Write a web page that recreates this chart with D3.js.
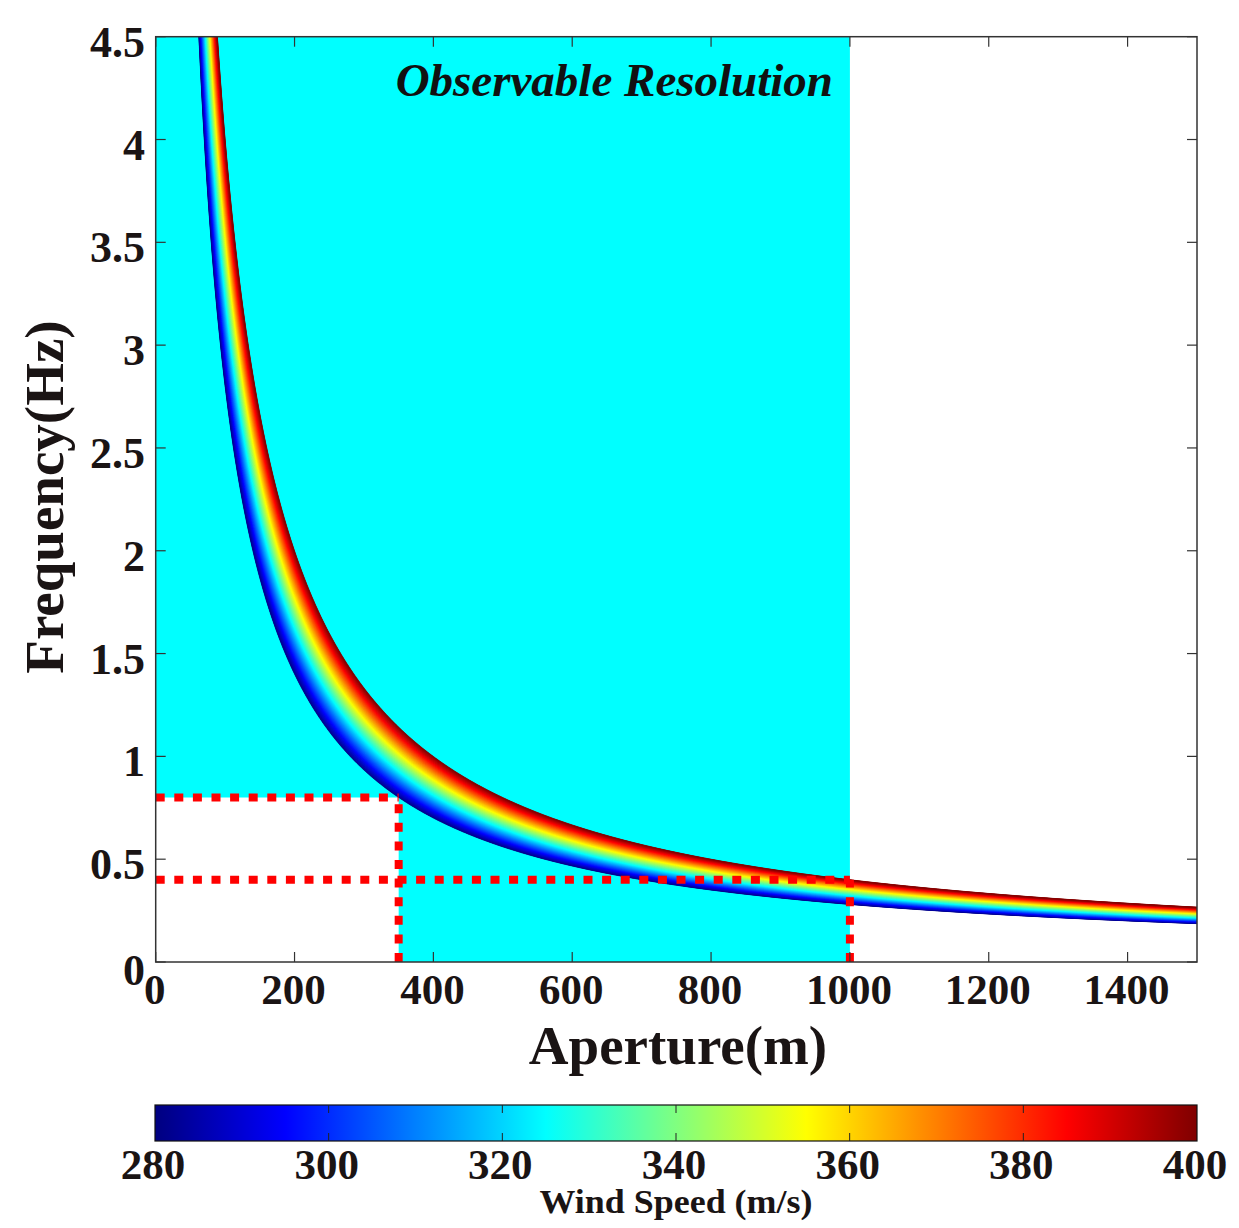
<!DOCTYPE html>
<html>
<head>
<meta charset="utf-8">
<script src="https://cdn.jsdelivr.net/npm/d3@7"></script>
<style>
  html, body { margin: 0; padding: 0; background: #fff; }
  svg { display: block; }
</style>
</head>
<body>
<div id="chart"></div>
<script>
// ---- data ----
const apertureDomain = [0, 1500];          // m
const frequencyDomain = [0, 4.5];          // Hz
const apertureTicks = [0, 200, 400, 600, 800, 1000, 1200, 1400];
const frequencyTicks = [0, 0.5, 1, 1.5, 2, 2.5, 3, 3.5, 4, 4.5];
const windSpeedDomain = [280, 400];        // m/s
const windSpeedTicks = [280, 300, 320, 340, 360, 380, 400];
const windSpeedStep = 1;                   // band resolution (m/s)
const observableAperture = [0, 1000];      // cyan region
const excludedAperture = [0, 350];         // white cut-out
const excludedFrequency = [0, 0.8];
const guideFrequencies = [0.8, 0.4];
const guideApertures = [350, 1000];
// frequency = windSpeed / aperture

// ---- layout ----
const W = 1239, H = 1228;
const m = { left: 155.7, top: 36.7, right: 1197, bottom: 962 };
const font = "'Liberation Serif', 'Times New Roman', serif";

const svg = d3.select("#chart").append("svg").attr("width", W).attr("height", H);

const x = d3.scaleLinear().domain(apertureDomain).range([m.left, m.right]);
const y = d3.scaleLinear().domain(frequencyDomain).range([m.bottom, m.top]);

function jet(t) {
  const c = v => Math.max(0, Math.min(1, v));
  const r = c(1.5 - Math.abs(4 * t - 3));
  const g = c(1.5 - Math.abs(4 * t - 2));
  const b = c(1.5 - Math.abs(4 * t - 1));
  return d3.rgb(r * 255, g * 255, b * 255).toString();
}
const cScale = d3.scaleLinear().domain(windSpeedDomain).range([0, 1]);

const defs = svg.append("defs");
defs.append("clipPath").attr("id", "plotClip")
  .append("rect").attr("x", m.left).attr("y", m.top)
  .attr("width", m.right - m.left).attr("height", m.bottom - m.top);

const plot = svg.append("g").attr("clip-path", "url(#plotClip)");

// cyan observable region
plot.append("rect")
  .attr("x", x(observableAperture[0])).attr("y", y(frequencyDomain[1]))
  .attr("width", x(observableAperture[1]) - x(observableAperture[0]))
  .attr("height", y(frequencyDomain[0]) - y(frequencyDomain[1]))
  .attr("fill", "#00ffff");
// white excluded region
plot.append("rect")
  .attr("x", x(excludedAperture[0])).attr("y", y(excludedFrequency[1]))
  .attr("width", x(excludedAperture[1]) - x(excludedAperture[0]))
  .attr("height", y(excludedFrequency[0]) - y(excludedFrequency[1]))
  .attr("fill", "#ffffff");

// curve band
const Lmin = 50, Lmax = apertureDomain[1];
const Ls = d3.range(0, 500).map(i => Lmin * Math.pow(Lmax / Lmin, i / 499));
const area = d3.area()
  .x(d => x(d.L))
  .y0(d => y(d.f0))
  .y1(d => y(d.f1));
const speeds = d3.range(windSpeedDomain[0], windSpeedDomain[1], windSpeedStep);
speeds.forEach(v => {
  const pts = Ls.map(L => ({ L, f0: v / L, f1: (v + windSpeedStep) / L }));
  const col = jet(cScale(v + windSpeedStep / 2));
  plot.append("path").attr("d", area(pts))
    .attr("fill", col).attr("stroke", col).attr("stroke-width", 0.6);
});

// red dotted guides
const guides = [
  { x1: 0, y1: guideFrequencies[0], x2: guideApertures[0], y2: guideFrequencies[0] },
  { x1: 0, y1: guideFrequencies[1], x2: guideApertures[1], y2: guideFrequencies[1] },
  { x1: guideApertures[0], y1: 0, x2: guideApertures[0], y2: guideFrequencies[0] },
  { x1: guideApertures[1], y1: 0, x2: guideApertures[1], y2: guideFrequencies[1] }
];
svg.append("g").selectAll("line").data(guides).join("line")
  .attr("x1", d => x(d.x1)).attr("y1", d => y(d.y1))
  .attr("x2", d => x(d.x2)).attr("y2", d => y(d.y2))
  .attr("stroke", "#ff0000").attr("stroke-width", 8)
  .attr("stroke-dasharray", "9,9.6");

// frame & ticks
const axisColor = "#333";
svg.append("rect").attr("x", m.left).attr("y", m.top)
  .attr("width", m.right - m.left).attr("height", m.bottom - m.top)
  .attr("fill", "none").attr("stroke", axisColor).attr("stroke-width", 1.5);

const tickLen = 10;
const tg = svg.append("g").attr("stroke", axisColor).attr("stroke-width", 1.2);
apertureTicks.forEach(t => {
  tg.append("line").attr("x1", x(t)).attr("x2", x(t)).attr("y1", m.bottom).attr("y2", m.bottom - tickLen);
  tg.append("line").attr("x1", x(t)).attr("x2", x(t)).attr("y1", m.top).attr("y2", m.top + tickLen);
});
frequencyTicks.forEach(t => {
  tg.append("line").attr("x1", m.left).attr("x2", m.left + tickLen).attr("y1", y(t)).attr("y2", y(t));
  tg.append("line").attr("x1", m.right).attr("x2", m.right - tickLen).attr("y1", y(t)).attr("y2", y(t));
});

// tick labels
svg.append("g").selectAll("text").data(apertureTicks).join("text")
  .attr("x", d => x(d) - 1).attr("y", 1004)
  .attr("text-anchor", "middle")
  .attr("font-family", font).attr("font-weight", "bold").attr("font-size", 43)
  .attr("fill", "#1a1414")
  .text(d => d);
svg.append("g").selectAll("text").data(frequencyTicks).join("text")
  .attr("x", 145).attr("y", d => y(d) + (d === 0 ? 23 : 20))
  .attr("text-anchor", "end")
  .attr("font-family", font).attr("font-weight", "bold").attr("font-size", 44)
  .attr("fill", "#1a1414")
  .text(d => d);

// axis titles
svg.append("text").attr("x", 678).attr("y", 1064)
  .attr("text-anchor", "middle")
  .attr("font-family", font).attr("font-weight", "bold").attr("font-size", 55)
  .attr("fill", "#1a1414").text("Aperture(m)");
svg.append("text")
  .attr("transform", "translate(63,497) rotate(-90)")
  .attr("text-anchor", "middle")
  .attr("font-family", font).attr("font-weight", "bold").attr("font-size", 55)
  .attr("fill", "#1a1414").text("Frequency(Hz)");

// annotation
svg.append("text").attr("x", 833).attr("y", 96)
  .attr("text-anchor", "end")
  .attr("font-family", font).attr("font-weight", "bold").attr("font-style", "italic")
  .attr("font-size", 47).attr("fill", "#111").text("Observable Resolution");

// colorbar
const cb = { x0: 155, x1: 1197, y0: 1105, y1: 1141 };
const cbX = d3.scaleLinear().domain(windSpeedDomain).range([cb.x0, cb.x1]);
const grad = defs.append("linearGradient").attr("id", "jetGrad")
  .attr("x1", "0%").attr("x2", "100%").attr("y1", "0%").attr("y2", "0%");
d3.range(0, 65).forEach(i => {
  const t = i / 64;
  grad.append("stop").attr("offset", (t * 100) + "%").attr("stop-color", jet(t));
});
svg.append("rect").attr("x", cb.x0).attr("y", cb.y0)
  .attr("width", cb.x1 - cb.x0).attr("height", cb.y1 - cb.y0)
  .attr("fill", "url(#jetGrad)").attr("stroke", "#111").attr("stroke-width", 1.2);
const cbt = svg.append("g").attr("stroke", "#222").attr("stroke-width", 1);
windSpeedTicks.slice(1, -1).forEach(t => {
  cbt.append("line").attr("x1", cbX(t)).attr("x2", cbX(t)).attr("y1", cb.y0).attr("y2", cb.y0 + 8);
  cbt.append("line").attr("x1", cbX(t)).attr("x2", cbX(t)).attr("y1", cb.y1).attr("y2", cb.y1 - 8);
});
svg.append("g").selectAll("text").data(windSpeedTicks).join("text")
  .attr("x", d => cbX(d) - 2).attr("y", 1179)
  .attr("text-anchor", "middle")
  .attr("font-family", font).attr("font-weight", "bold").attr("font-size", 43)
  .attr("fill", "#1a1414").text(d => d);
svg.append("text").attr("x", 676).attr("y", 1213)
  .attr("text-anchor", "middle")
  .attr("font-family", font).attr("font-weight", "bold").attr("font-size", 33)
  .attr("textLength", 273).attr("lengthAdjust", "spacingAndGlyphs")
  .attr("fill", "#1a1414").text("Wind Speed (m/s)");
</script>
</body>
</html>
